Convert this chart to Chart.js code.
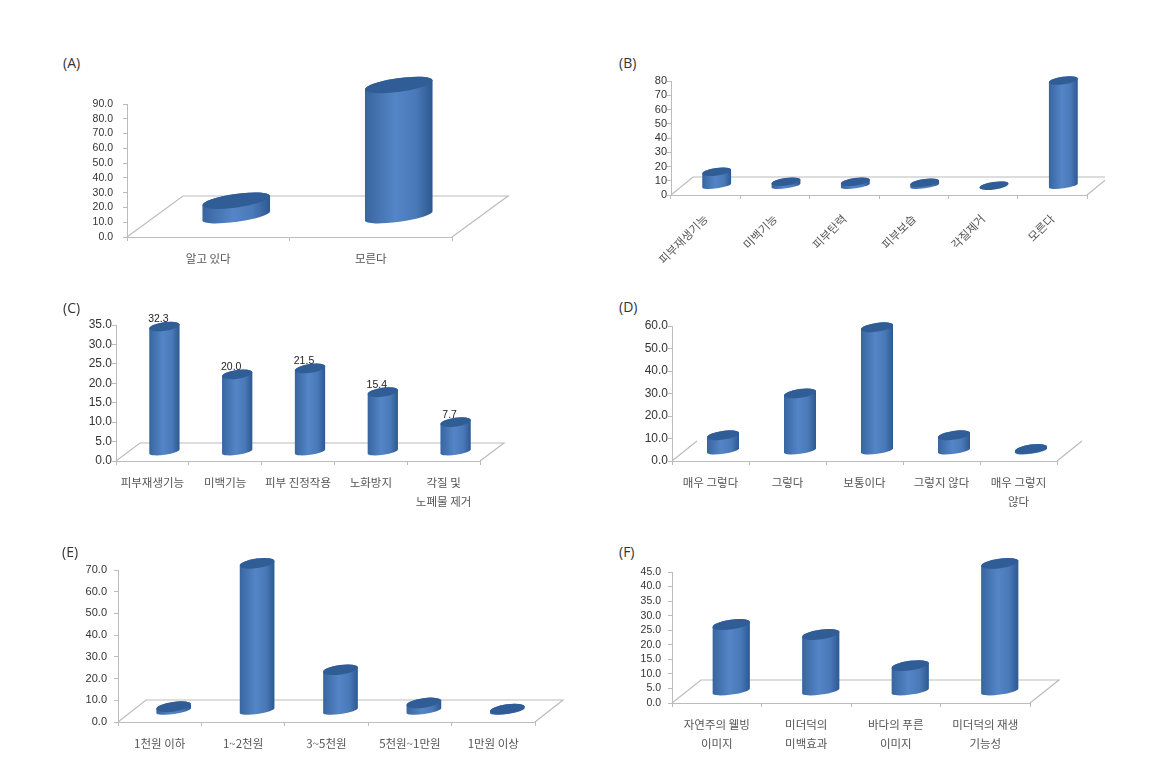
<!DOCTYPE html>
<html lang="ko">
<head>
<meta charset="utf-8">
<title>A-F</title>
<script src="https://cdn.jsdelivr.net/npm/chart.js@4"></script>
<style>
  html, body { margin: 0; padding: 0; background: #fff; }
  body { position: relative; width: 1155px; height: 759px; overflow: hidden; }
  canvas { position: absolute; filter: blur(0.45px); }
  .panel-name { position: absolute; font: 14px "Open Sans", sans-serif; color: #333; line-height: 18px; }
</style>
</head>
<body>
<script>
const categoriesA = ["알고 있다", "모른다"];
const valuesA = [10.7, 89];

const categoriesB = ["피부재생기능", "미백기능", "피부탄력", "피부보습", "각질제거", "모른다"];
const valuesB = [10, 3, 3, 2.3, 0.2, 74];

const categoriesC = ["피부재생기능", "미백기능", "피부 진정작용", "노화방지", ["각질 및", "노폐물 제거"]];
const valuesC = [32.3, 20.0, 21.5, 15.4, 7.7];

const categoriesD = ["매우 그렇다", "그렇다", "보통이다", "그렇지 않다", ["매우 그렇지", "않다"]];
const valuesD = [7, 25.6, 55, 7, 0.9];

const categoriesE = ["1천원 이하", "1~2천원", "3~5천원", "5천원~1만원", "1만원 이상"];
const valuesE = [2, 68, 19, 3.7, 0.9];

const categoriesF = [["자연주의 웰빙", "이미지"], ["미더덕의", "미백효과"], ["바다의 푸른", "이미지"], ["미더덕의 재생", "기능성"]];
const valuesF = [23, 19.6, 8.9, 44];

const BLUE_LEFT = "#37659f";
const BLUE_MID = "#5485c6";
const BLUE_RIGHT = "#2c5890";
const BLUE_CAP = "#315d97";
const LINE_GREY = "#bcbcbc";

// draws the floor + cylinders in place of the flat bars
const cylinderPlugin = {
  id: "cylinders",
  beforeDatasetsDraw(chart, args, opts) {
    const ctx = chart.ctx;
    const { left, right, bottom } = chart.chartArea;
    const depthX = opts.depthX;
    const depthY = opts.depthY;

    ctx.save();
    ctx.strokeStyle = LINE_GREY;
    ctx.lineWidth = 1.2;
    ctx.beginPath();
    ctx.moveTo(left, bottom);
    ctx.lineTo(left + depthX, bottom - depthY);
    if (opts.backLine) {
      ctx.lineTo(right + depthX, bottom - depthY);
    } else {
      ctx.moveTo(right + depthX, bottom - depthY);
    }
    ctx.lineTo(right, bottom);
    ctx.stroke();

    const meta = chart.getDatasetMeta(0);
    const values = chart.data.datasets[0].data;
    const tilt = opts.tilt * Math.PI / 180;

    meta.data.forEach((bar, i) => {
      const cx = bar.x + depthX / 2;
      const rx = bar.width / 2;
      const ry = opts.capHeight;
      const baseY = bar.base - depthY / 2;
      const topY = bar.y - depthY / 2;

      const grad = ctx.createLinearGradient(cx - rx, 0, cx + rx, 0);
      grad.addColorStop(0, BLUE_LEFT);
      grad.addColorStop(0.45, BLUE_MID);
      grad.addColorStop(0.75, "#4a79b8");
      grad.addColorStop(1, BLUE_RIGHT);

      // body: bottom half of the base ellipse, joined up to the top ellipse
      ctx.beginPath();
      ctx.ellipse(cx, baseY, rx, ry * opts.baseRatio, -tilt, Math.PI, 0, true);
      ctx.ellipse(cx, topY, rx, ry, -tilt, 0, Math.PI, true);
      ctx.closePath();
      ctx.fillStyle = grad;
      ctx.fill();

      ctx.beginPath();
      ctx.ellipse(cx, topY, rx, ry, -tilt, 0, Math.PI * 2);
      ctx.fillStyle = BLUE_CAP;
      ctx.fill();

      if (opts.showValues) {
        ctx.fillStyle = "#222";
        ctx.font = '10.5px "Liberation Sans", sans-serif';
        ctx.textAlign = "center";
        ctx.textBaseline = "bottom";
        ctx.fillText(values[i].toFixed(1), bar.x + 6, topY - 2);
      }
    });
    ctx.restore();
    return false;
  },
};

function drawPanel({
  name, nameX, nameY, categories, values, yMax, yStep, decimals = 1,
  left, right, top, bottom, depthX, depthY, backLine = true,
  tilt = 8, capHeight = 4.4, baseRatio = 0.75, yFont = 10, yPad = 0, xPad = 8, xRotation = 0, showValues = false,
  clipRight = 0,
}) {
  const label = document.createElement("div");
  label.className = "panel-name";
  label.textContent = name;
  label.style.left = nameX + "px";
  label.style.top = nameY - 9 + "px";
  document.body.appendChild(label);

  const padLeft = 50;
  const padTop = 40;
  const padBottom = 75;
  const padRight = clipRight || depthX + 4;

  const canvas = document.createElement("canvas");
  canvas.width = right - left + padLeft + padRight;
  canvas.height = bottom - top + padTop + padBottom;
  canvas.style.left = left - padLeft + "px";
  canvas.style.top = top - padTop + "px";
  document.body.appendChild(canvas);

  new Chart(canvas.getContext("2d"), {
    type: "bar",
    plugins: [cylinderPlugin],
    data: {
      labels: categories,
      datasets: [{
        data: values,
        backgroundColor: BLUE_MID,
        barPercentage: 0.42,
        categoryPercentage: 1,
      }],
    },
    options: {
      responsive: false,
      animation: false,
      layout: { padding: { top: padTop, right: padRight, left: 0, bottom: 0 } },
      plugins: {
        legend: { display: false },
        tooltip: { enabled: false },
        cylinders: { depthX, depthY, backLine, tilt, capHeight, baseRatio, showValues },
      },
      scales: {
        x: {
          afterFit(scale) { scale.height = padBottom; },
          border: { color: LINE_GREY },
          grid: { drawOnChartArea: false, color: LINE_GREY, tickLength: 4 },
          ticks: {
            color: "#555",
            padding: xPad,
            autoSkip: false,
            minRotation: xRotation,
            maxRotation: xRotation,
            font: { family: '"Noto Sans CJK KR", sans-serif', size: 11.5, lineHeight: 1.65 },
          },
        },
        y: {
          min: 0,
          max: yMax,
          afterFit(scale) { scale.width = padLeft; },
          border: { color: LINE_GREY },
          grid: { drawOnChartArea: false, color: LINE_GREY, tickLength: 4 },
          ticks: {
            stepSize: yStep,
            autoSkip: false,
            color: "#333",
            padding: yPad,
            font: { family: '"Liberation Sans", sans-serif', size: yFont },
            callback: (v) => v.toFixed(decimals),
          },
        },
      },
    },
  });
}

drawPanel({
  name: "(A)", nameX: 63, nameY: 63, categories: categoriesA, values: valuesA, yMax: 90, yStep: 10,
  left: 127, right: 452, top: 104, bottom: 237, depthX: 56, depthY: 41, capHeight: 6.8, baseRatio: 0.85, yFont: 10.5, yPad: 10,
});
drawPanel({
  name: "(B)", nameX: 619, nameY: 63, categories: categoriesB, values: valuesB, yMax: 80, yStep: 10, decimals: 0,
  left: 671, right: 1087, top: 81, bottom: 195, depthX: 22, depthY: 18, capHeight: 3.8, yFont: 11, xPad: 11,
  xRotation: 45, clipRight: 18,
});
drawPanel({
  name: "(C)", nameX: 63, nameY: 308, categories: categoriesC, values: valuesC, yMax: 35, yStep: 5,
  left: 116, right: 480, top: 325, bottom: 461, depthX: 24, depthY: 18, yFont: 12, showValues: true,
});
drawPanel({
  name: "(D)", nameX: 619, nameY: 307, categories: categoriesD, values: valuesD, yMax: 60, yStep: 10,
  left: 672, right: 1057, top: 326, bottom: 461, depthX: 25, depthY: 20, backLine: false, yFont: 12,
});
drawPanel({
  name: "(E)", nameX: 62, nameY: 552, categories: categoriesE, values: valuesE, yMax: 70, yStep: 10,
  left: 118, right: 535, top: 570, bottom: 722, depthX: 28, depthY: 22, capHeight: 4.8, yFont: 11, yPad: 7,
});
drawPanel({
  name: "(F)", nameX: 619, nameY: 552, categories: categoriesF, values: valuesF, yMax: 45, yStep: 5,
  left: 672, right: 1030, top: 572, bottom: 703, depthX: 29, depthY: 23, capHeight: 4.8, yFont: 10.5, yPad: 7,
});
</script>
</body>
</html>
